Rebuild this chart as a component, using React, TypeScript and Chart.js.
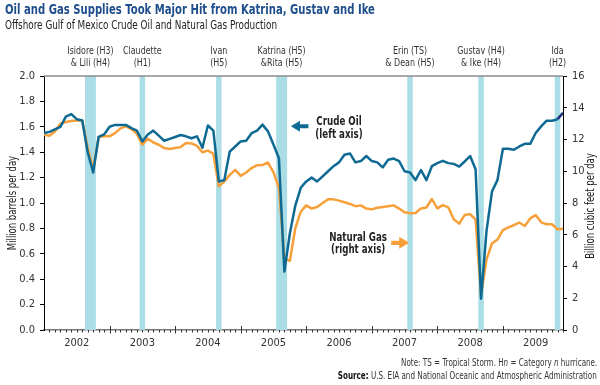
import React, { useEffect, useRef } from "react";
import { Chart, registerables } from "chart.js";

Chart.register(...registerables);

const FONT = "'Liberation Sans Narrow', 'DejaVu Sans Condensed', 'Arial Narrow', sans-serif";

const OIL_COLOR = "#0e6a93";
const GAS_COLOR = "#f7a03a";
const BAR_COLOR = "#abdde7";
const TITLE_COLOR = "#1f4e8c";
const TEXT_COLOR = "#222222";

// Monthly data, Jan 2002 (index 0) .. Dec 2009 (index 95)
const yearLabels = ["2002", "2003", "2004", "2005", "2006", "2007", "2008", "2009"];

const crudeOil = [
  1.55, 1.56, 1.58, 1.60, 1.68, 1.70, 1.66, 1.65, 1.40, 1.24, 1.52, 1.54,
  1.60, 1.615, 1.615, 1.615, 1.59, 1.57, 1.485, 1.54, 1.57, 1.53, 1.49, 1.505,
  1.52, 1.535, 1.525, 1.51, 1.525, 1.435, 1.61, 1.57, 1.17, 1.18, 1.405, 1.445,
  1.485, 1.49, 1.55, 1.57, 1.617, 1.564, 1.46, 1.353, 0.46, 0.76, 0.98, 1.12,
  1.17, 1.20, 1.17, 1.21, 1.25, 1.29, 1.32, 1.38, 1.39, 1.32, 1.33, 1.37,
  1.33, 1.32, 1.28, 1.34, 1.35, 1.33, 1.25, 1.24, 1.18, 1.26, 1.18, 1.29,
  1.314, 1.332, 1.314, 1.308, 1.287, 1.327, 1.37, 1.266, 0.247, 0.78, 1.09, 1.18,
  1.427, 1.427, 1.419, 1.445, 1.466, 1.466, 1.551, 1.603, 1.648, 1.648, 1.66, 1.71,
];

const naturalGas = [
  12.3, 12.24, 12.5, 13.0, 13.1, 13.17, 13.2, 13.2, 11.5, 10.1, 12.16, 12.2,
  12.2, 12.4, 12.7, 12.83, 12.66, 12.35, 11.67, 12.05, 11.82, 11.67, 11.46, 11.4,
  11.46, 11.52, 11.78, 11.75, 11.6, 11.2, 11.3, 11.1, 9.05, 9.35, 9.77, 10.09,
  9.71, 9.92, 10.2, 10.38, 10.4, 10.55, 9.95, 8.95, 4.5, 4.35, 6.4, 7.45,
  7.85, 7.65, 7.75, 8.0, 8.23, 8.23, 8.15, 8.05, 7.94, 7.8, 7.85, 7.65,
  7.6, 7.7, 7.75, 7.8, 7.85, 7.65, 7.42, 7.35, 7.37, 7.66, 7.72, 8.25,
  7.66, 7.87, 7.73, 6.97, 6.7, 7.24, 7.3, 6.95, 2.2, 4.45, 5.45, 5.7,
  6.29, 6.46, 6.6, 6.77, 6.55, 7.03, 7.24, 6.78, 6.66, 6.66, 6.34, 6.38,
];

// Hurricane bands (month indices) and their labels
const stormStart = [8, 18, 32, 43, 67, 80, 94];
const stormEnd = [9, 18, 32, 44, 67, 80, 94];
const stormLine1 = ["Isidore (H3)", "Claudette", "Ivan", "Katrina (H5)", "Erin (TS)", "Gustav (H4)", "Ida"];
const stormLine2 = ["& Lili (H4)", "(H1)", "(H5)", "&Rita (H5)", "& Dean (H5)", "& Ike (H4)", "(H2)"];

const leftTitle = "Million barrels per day";
const rightTitle = "Billion cubic feet per day";

function scaledText(ctx: any, text: string, x: number, y: number, sx: number, rot = 0) {
  ctx.save();
  ctx.translate(x, y);
  if (rot) ctx.rotate(rot);
  ctx.scale(sx, 1);
  ctx.fillText(text, 0, 0);
  ctx.restore();
}

const decorPlugin = {
  id: "decor",
  beforeDatasetsDraw(chart: any) {
    const { ctx, chartArea, scales } = chart;
    const x = scales.x;
    ctx.save();
    ctx.fillStyle = BAR_COLOR;
    stormStart.forEach((s, k) => {
      const x0 = x.getPixelForValue(s - 0.5);
      const x1 = x.getPixelForValue(stormEnd[k] + 0.5);
      ctx.fillRect(x0, chartArea.top, x1 - x0, chartArea.bottom - chartArea.top);
    });
    ctx.restore();
  },
  afterDraw(chart: any) {
    const { ctx, chartArea, scales } = chart;
    const x = scales.x;
    const y = scales.y;
    const y1 = scales.y1;
    ctx.save();
    // top frame line
    ctx.strokeStyle = "#8c8c8c";
    ctx.lineWidth = 1.5;
    ctx.beginPath();
    ctx.moveTo(chartArea.left, chartArea.top);
    ctx.lineTo(chartArea.right, chartArea.top);
    ctx.stroke();

    // month / year ticks
    ctx.strokeStyle = "#333";
    ctx.lineWidth = 1;
    for (let m = 1; m <= 95; m++) {
      const px = Math.round(x.getPixelForValue(m)) + 0.5;
      ctx.beginPath();
      if (m % 12 === 0) {
        ctx.moveTo(px, chartArea.bottom - 4);
        ctx.lineTo(px, chartArea.bottom + 3.5);
      } else {
        ctx.moveTo(px, chartArea.bottom);
        ctx.lineTo(px, chartArea.bottom + 2.5);
      }
      ctx.stroke();
    }

    // axis titles
    ctx.fillStyle = TEXT_COLOR;
    ctx.font = `11.5px ${FONT}`;
    ctx.textAlign = "center";
    ctx.textBaseline = "middle";
    const midY = (chartArea.top + chartArea.bottom) / 2;
    scaledText(ctx, leftTitle, 13, midY, 0.82, -Math.PI / 2);
    scaledText(ctx, rightTitle, 591, midY + 3, 0.82, -Math.PI / 2);

    // storm labels
    ctx.fillStyle = "#333";
    ctx.font = `10.5px ${FONT}`;
    stormStart.forEach((s, k) => {
      const cx = (x.getPixelForValue(s - 0.5) + x.getPixelForValue(stormEnd[k] + 0.5)) / 2;
      scaledText(ctx, stormLine1[k], cx, chartArea.top - 24.5, 0.84);
      scaledText(ctx, stormLine2[k], cx, chartArea.top - 12.5, 0.84);
    });

    // Crude oil annotation
    ctx.fillStyle = TEXT_COLOR;
    ctx.font = `bold 11.5px ${FONT}`;
    const oilTx = x.getPixelForValue(54);
    scaledText(ctx, "Crude Oil", oilTx, y.getPixelForValue(1.635), 0.84);
    scaledText(ctx, "(left axis)", oilTx, y.getPixelForValue(1.537), 0.84);
    const oTip = x.getPixelForValue(45.2);
    const oTail = x.getPixelForValue(48.4);
    const oy = y.getPixelForValue(1.605);
    ctx.fillStyle = OIL_COLOR;
    ctx.beginPath();
    ctx.moveTo(oTip, oy);
    ctx.lineTo(oTip + 9, oy - 5.5);
    ctx.lineTo(oTip + 9, oy - 2);
    ctx.lineTo(oTail, oy - 2);
    ctx.lineTo(oTail, oy + 2);
    ctx.lineTo(oTip + 9, oy + 2);
    ctx.lineTo(oTip + 9, oy + 5.5);
    ctx.closePath();
    ctx.fill();

    // Natural gas annotation
    ctx.fillStyle = TEXT_COLOR;
    const gasTx = x.getPixelForValue(57.5);
    scaledText(ctx, "Natural Gas", gasTx, y1.getPixelForValue(5.81), 0.84);
    scaledText(ctx, "(right axis)", gasTx, y1.getPixelForValue(5.03), 0.84);
    const gTail = x.getPixelForValue(63.55);
    const gTip = x.getPixelForValue(66.85);
    const gy = y1.getPixelForValue(5.49);
    ctx.fillStyle = GAS_COLOR;
    ctx.beginPath();
    ctx.moveTo(gTip, gy);
    ctx.lineTo(gTip - 10, gy - 6);
    ctx.lineTo(gTip - 10, gy - 2.2);
    ctx.lineTo(gTail, gy - 2.2);
    ctx.lineTo(gTail, gy + 2.2);
    ctx.lineTo(gTip - 10, gy + 2.2);
    ctx.lineTo(gTip - 10, gy + 6);
    ctx.closePath();
    ctx.fill();
    ctx.restore();
  },
};

export default function App() {
  const canvasRef = useRef<HTMLCanvasElement | null>(null);

  useEffect(() => {
    document.body.style.margin = "0";
    const canvas = canvasRef.current;
    if (!canvas) return;
    const tickFont = { family: FONT, size: 11 };
    const chart = new Chart(canvas, {
      type: "line",
      data: {
        datasets: [
          {
            label: "Crude Oil",
            data: crudeOil.map((v, i) => ({ x: i, y: v })),
            yAxisID: "y",
            borderColor: OIL_COLOR,
            borderWidth: 2.5,
            pointRadius: 0,
            tension: 0,
            borderJoinStyle: "round",
            segment: {
              borderColor: (c: any) => (c.p0DataIndex >= 94 ? "#1d2f7c" : undefined),
            },
          },
          {
            label: "Natural Gas",
            data: naturalGas.map((v, i) => ({ x: i, y: v })),
            yAxisID: "y1",
            borderColor: GAS_COLOR,
            borderWidth: 2.5,
            pointRadius: 0,
            tension: 0,
            borderJoinStyle: "round",
          },
        ],
      },
      options: {
        responsive: false,
        animation: false,
        devicePixelRatio: 1,
        layout: { padding: { top: 76, left: 0, right: 0, bottom: 0 } },
        plugins: { legend: { display: false }, tooltip: { enabled: false }, title: { display: false } },
        scales: {
          x: {
            type: "linear",
            min: 0,
            max: 95,
            afterBuildTicks: (s: any) => {
              s.ticks = yearLabels.map((_, k) => ({ value: 6 + 12 * k }));
            },
            ticks: {
              autoSkip: false,
              maxRotation: 0,
              callback: (_v: any, i: number) => yearLabels[i],
              font: tickFont,
              color: "#333",
              padding: 7,
            },
            grid: { display: false, drawTicks: false },
            border: { display: true, color: "#777", width: 1.5 },
            afterFit: (s: any) => {
              s.height = 55;
            },
          },
          y: {
            position: "left",
            min: 0,
            max: 2,
            ticks: {
              stepSize: 0.2,
              callback: (v: any) => Number(v).toFixed(1),
              font: tickFont,
              color: "#333",
              padding: 5,
            },
            grid: { display: true, drawOnChartArea: false, drawTicks: true, tickLength: 4, color: "#000" },
            border: { display: true, color: "#000", width: 1 },
            afterFit: (s: any) => {
              s.width = 44;
            },
          },
          y1: {
            position: "right",
            min: 0,
            max: 16,
            ticks: {
              stepSize: 2,
              font: tickFont,
              color: "#333",
              padding: 5,
            },
            grid: { display: true, drawOnChartArea: false, drawTicks: true, tickLength: 4, color: "#000" },
            border: { display: true, color: "#000", width: 1 },
            afterFit: (s: any) => {
              s.width = 37;
            },
          },
        },
      },
      plugins: [decorPlugin],
    } as any);
    return () => chart.destroy();
  }, []);

  return (
    <div style={{ position: "relative", width: 600, height: 385, background: "#fff", fontFamily: FONT }}>
      <canvas ref={canvasRef} width={600} height={385} style={{ position: "absolute", left: 0, top: 0 }} />
      <div
        style={{
          position: "absolute",
          left: 5,
          top: 1,
          fontSize: 14,
          lineHeight: "16px",
          fontWeight: "bold",
          color: TITLE_COLOR,
          whiteSpace: "nowrap",
          transform: "scaleX(0.8)",
          transformOrigin: "left top",
        }}
      >
        Oil and Gas Supplies Took Major Hit from Katrina, Gustav and Ike
      </div>
      <div
        style={{
          position: "absolute",
          left: 5,
          top: 18,
          fontSize: 12,
          lineHeight: "14px",
          color: TEXT_COLOR,
          whiteSpace: "nowrap",
          transform: "scaleX(0.82)",
          transformOrigin: "left top",
        }}
      >
        Offshore Gulf of Mexico Crude Oil and Natural Gas Production
      </div>
      <div
        style={{
          position: "absolute",
          right: 3,
          top: 357,
          fontSize: 10,
          lineHeight: "12px",
          color: "#333",
          whiteSpace: "nowrap",
          textAlign: "right",
          transform: "scaleX(0.8)",
          transformOrigin: "right top",
        }}
      >
        Note: TS = Tropical Storm. H<i>n</i> = Category <i>n</i> hurricane.
      </div>
      <div
        style={{
          position: "absolute",
          right: 3,
          top: 370,
          fontSize: 10,
          lineHeight: "12px",
          color: "#333",
          whiteSpace: "nowrap",
          textAlign: "right",
          transform: "scaleX(0.8)",
          transformOrigin: "right top",
        }}
      >
        <b style={{ color: "#111" }}>Source:</b> U.S. EIA and National Oceanic and Atmospheric Administration
      </div>
    </div>
  );
}
